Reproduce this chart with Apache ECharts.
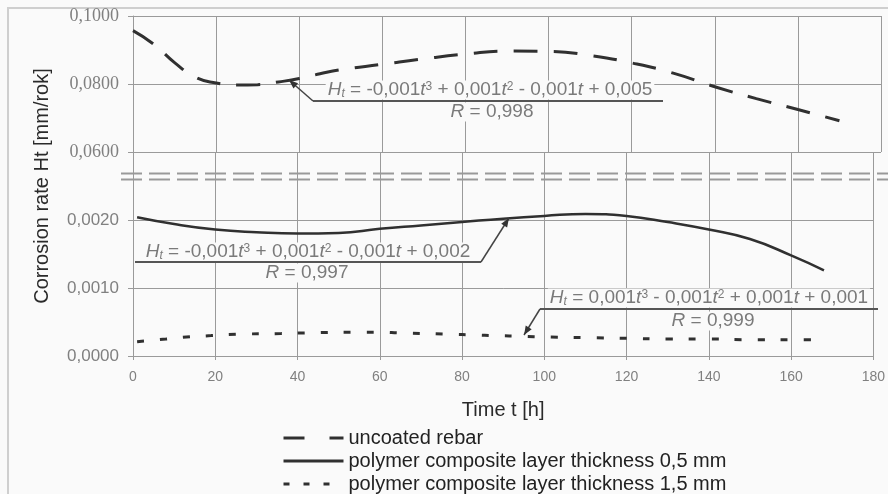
<!DOCTYPE html>
<html>
<head>
<meta charset="utf-8">
<script src="https://cdn.jsdelivr.net/npm/echarts@6/dist/echarts.min.js"></script>
<style>
html,body{margin:0;padding:0;background:#fafafa;}
#c{width:888px;height:494px;}
</style>
</head>
<body>
<div id="c"></div>
<script>
// ---- data ----
const xTicks = [0, 20, 40, 60, 80, 100, 120, 140, 160, 180];
const topTicks = [0.06, 0.08, 0.10];
const bottomTicks = [0.000, 0.001, 0.002];

const tUncoated = [0, 5, 10, 15, 20, 25, 30, 35, 40, 45, 50, 60, 70, 80, 90, 100, 110, 120, 130, 140, 150, 160, 170];
const vUncoated = [0.0957, 0.0917, 0.0863, 0.0820, 0.0803, 0.0797, 0.0798, 0.0806, 0.0816, 0.0830, 0.0842, 0.0858, 0.0874, 0.0888, 0.0897, 0.0896, 0.0884, 0.0862, 0.0832, 0.0792, 0.0757, 0.0725, 0.0692];

const t05 = [1, 10, 20, 30, 40, 50, 60, 70, 80, 90, 100, 110, 120, 130, 140, 150, 160, 168];
const v05 = [0.00204, 0.00194, 0.00186, 0.00182, 0.00180, 0.00181, 0.00187, 0.00192, 0.00197, 0.00202, 0.00206, 0.00209, 0.00206, 0.00197, 0.00186, 0.00172, 0.00148, 0.00126];

const t15 = [1, 8, 13, 19, 25, 36, 42, 54, 60, 65, 77, 83, 88, 95, 100, 110, 120, 130, 140, 150, 160, 168];
const v15 = [0.00021, 0.00025, 0.00028, 0.00030, 0.00032, 0.00033, 0.00034, 0.00035, 0.00035, 0.00034, 0.00032, 0.00031, 0.00030, 0.00029, 0.00028, 0.00027, 0.00026, 0.00025, 0.00025, 0.00024, 0.00024, 0.00024];

const seriesNames = ['uncoated rebar', 'polymer composite layer thickness 0,5 mm', 'polymer composite layer thickness 1,5 mm'];
const xTitle = 'Time t [h]';
const yTitle = 'Corrosion rate Ht [mm/rok]';
const eqTexts = [
  '{i|H}{s|t} = -0,001{i|t}{p|3} + 0,001{i|t}{p|2} - 0,001{i|t} + 0,005',
  '{i|H}{s|t} = -0,001{i|t}{p|3} + 0,001{i|t}{p|2} - 0,001{i|t} + 0,002',
  '{i|H}{s|t} = 0,001{i|t}{p|3} - 0,001{i|t}{p|2} + 0,001{i|t} + 0,001'
];
const rTexts = ['{i|R} = 0,998', '{i|R} = 0,997', '{i|R} = 0,999'];

const zip = (a, b) => a.map((x, i) => [x, b[i]]);
const fmt = v => v.toFixed(4).replace('.', ',');

const gridColor = '#9a9a9a';
const labelColor = '#808080';
const lineColor = '#303030';
const bg = '#fafafa';
const annColor = '#7a7a7a';

const richStyle = {
  i: {fontStyle: 'italic', fontSize: 19, fontFamily: 'Liberation Sans', color: annColor},
  s: {fontStyle: 'italic', fontSize: 12, fontFamily: 'Liberation Sans', color: annColor, verticalAlign: 'bottom', padding: [7, 0, 0, 0]},
  p: {fontSize: 12, fontFamily: 'Liberation Sans', color: annColor, verticalAlign: 'top', padding: [0, 0, 7, 0]}
};

function annotation(text, rtext, cx, cy, ux1, ux2, uy, rcx, rcy, lx, ly, tx, ty) {
  const els = [];
  els.push({type: 'text', z: 100, x: cx, y: cy, style: {
    text: text, rich: richStyle, fontSize: 19, fontFamily: 'Liberation Sans', fill: annColor,
    align: 'center', verticalAlign: 'middle', backgroundColor: bg, padding: [0, 2]}});
  els.push({type: 'text', z: 100, x: rcx, y: rcy, style: {
    text: rtext, rich: richStyle, fontSize: 19, fontFamily: 'Liberation Sans', fill: annColor,
    align: 'center', verticalAlign: 'middle', backgroundColor: bg, padding: [0, 2]}});
  els.push({type: 'line', z: 101, shape: {x1: ux1, y1: uy, x2: ux2, y2: uy}, style: {stroke: '#555', lineWidth: 2}});
  els.push({type: 'line', z: 101, shape: {x1: lx, y1: ly, x2: tx, y2: ty}, style: {stroke: '#444', lineWidth: 1.5}});
  const ang = Math.atan2(ty - ly, tx - lx);
  const L = 9, W = 3.5;
  const bx = tx - L * Math.cos(ang), by = ty - L * Math.sin(ang);
  els.push({type: 'polygon', z: 101, shape: {points: [
    [tx, ty],
    [bx + W * Math.sin(ang), by - W * Math.cos(ang)],
    [bx - W * Math.sin(ang), by + W * Math.cos(ang)]
  ]}, style: {fill: '#333'}});
  return els;
}

const chart = echarts.init(document.getElementById('c'), null, {renderer: 'canvas'});

const graphics = [
  {type: 'rect', z: 0, shape: {x: 8, y: 8, width: 890, height: 500}, style: {fill: 'none', stroke: '#cfcfcf', lineWidth: 2}},
  {type: 'line', z: 90, shape: {x1: 121, y1: 173.5, x2: 888, y2: 173.5}, style: {stroke: '#999', lineWidth: 2, lineDash: [21, 7]}},
  {type: 'line', z: 90, shape: {x1: 121, y1: 179.5, x2: 888, y2: 179.5}, style: {stroke: '#999', lineWidth: 2, lineDash: [21, 7]}},
  {type: 'text', z: 100, x: 42, y: 186, rotation: Math.PI / 2, style: {
    text: yTitle, fontSize: 20, fontFamily: 'Liberation Sans', fill: '#2a2a2a', align: 'center', verticalAlign: 'middle'}}
].concat(
  annotation(eqTexts[0], rTexts[0], 490, 90, 313, 663, 101, 492, 112, 313, 101, 289, 80),
  annotation(eqTexts[1], rTexts[1], 308, 252, 135, 481, 262, 307, 273, 481, 262, 509, 218),
  annotation(eqTexts[2], rTexts[2], 709, 298, 540, 878, 309, 713, 321, 540, 309, 524, 335)
);

const option = {
  backgroundColor: bg,
  animation: false,
  grid: [
    {left: 133, right: 7, top: 16, height: 136},
    {left: 133, right: 7, top: 152, height: 204}
  ],
  xAxis: [
    {gridIndex: 0, type: 'value', min: xTicks[0], max: xTicks[xTicks.length - 1], interval: 20,
      axisLine: {show: false}, axisTick: {show: false}, axisLabel: {show: false},
      splitLine: {show: true, lineStyle: {color: gridColor, width: 1}}},
    {gridIndex: 1, type: 'value', min: xTicks[0], max: xTicks[xTicks.length - 1], interval: 20,
      name: xTitle, nameLocation: 'middle', nameGap: 44,
      nameTextStyle: {fontSize: 20, fontFamily: 'Liberation Sans', color: '#2a2a2a'},
      axisLine: {show: true, lineStyle: {color: gridColor, width: 1}},
      axisTick: {show: true, length: 4, lineStyle: {color: gridColor}},
      axisLabel: {margin: 14, fontSize: 14, fontFamily: 'Liberation Sans', color: labelColor,
        alignMaxLabel: 'center', hideOverlap: false, formatter: v => String(v)},
      splitLine: {show: true, lineStyle: {color: gridColor, width: 1}}}
  ],
  yAxis: [
    {gridIndex: 0, type: 'value', min: topTicks[0], max: topTicks[topTicks.length - 1], interval: 0.02,
      axisLine: {show: true, lineStyle: {color: gridColor}},
      axisTick: {show: true, length: 5, lineStyle: {color: gridColor}},
      axisLabel: {margin: 14, fontSize: 18, fontFamily: 'Liberation Serif', color: labelColor, formatter: v => fmt(v)},
      splitLine: {show: true, lineStyle: {color: gridColor, width: 1}}},
    {gridIndex: 1, type: 'value', min: bottomTicks[0], max: 0.003, interval: 0.001,
      axisLine: {show: true, lineStyle: {color: gridColor}},
      axisTick: {show: true, length: 5, lineStyle: {color: gridColor}},
      axisLabel: {margin: 14, fontSize: 17, fontFamily: 'Liberation Sans', color: labelColor,
        formatter: v => (v > bottomTicks[bottomTicks.length - 1] + 0.0005 ? '' : fmt(v))},
      splitLine: {show: true, lineStyle: {color: gridColor, width: 1}}}
  ],
  legend: {
    orient: 'vertical', left: 282, top: 428, itemWidth: 60, itemHeight: 14, itemGap: 3,
    padding: 0, height: 80,
    selectedMode: false,
    itemStyle: {color: 'transparent', borderWidth: 0, borderColor: 'transparent'},
    textStyle: {fontSize: 20, fontFamily: 'Liberation Sans', color: '#222', lineHeight: 19},
    data: [
      {name: seriesNames[0], lineStyle: {type: [21, 25], width: 3, color: lineColor}},
      {name: seriesNames[1], lineStyle: {type: 'solid', width: 3, color: lineColor}},
      {name: seriesNames[2], lineStyle: {type: [6, 14], width: 3, color: lineColor}}
    ]
  },
  graphic: graphics,
  series: [
    {name: seriesNames[0], type: 'line', xAxisIndex: 0, yAxisIndex: 0, data: zip(tUncoated, vUncoated),
      smooth: true, symbol: 'none', lineStyle: {color: lineColor, width: 3, type: [24, 16]}, itemStyle: {color: lineColor}, z: 5},
    {name: seriesNames[1], type: 'line', xAxisIndex: 1, yAxisIndex: 1, data: zip(t05, v05),
      smooth: true, symbol: 'none', lineStyle: {color: lineColor, width: 2.5, type: 'solid'}, itemStyle: {color: lineColor}, z: 5},
    {name: seriesNames[2], type: 'line', xAxisIndex: 1, yAxisIndex: 1, data: zip(t15, v15),
      smooth: true, symbol: 'none', lineStyle: {color: lineColor, width: 3, type: [7, 16]}, itemStyle: {color: lineColor}, z: 5}
  ]
};
chart.setOption(option);
</script>
</body>
</html>
